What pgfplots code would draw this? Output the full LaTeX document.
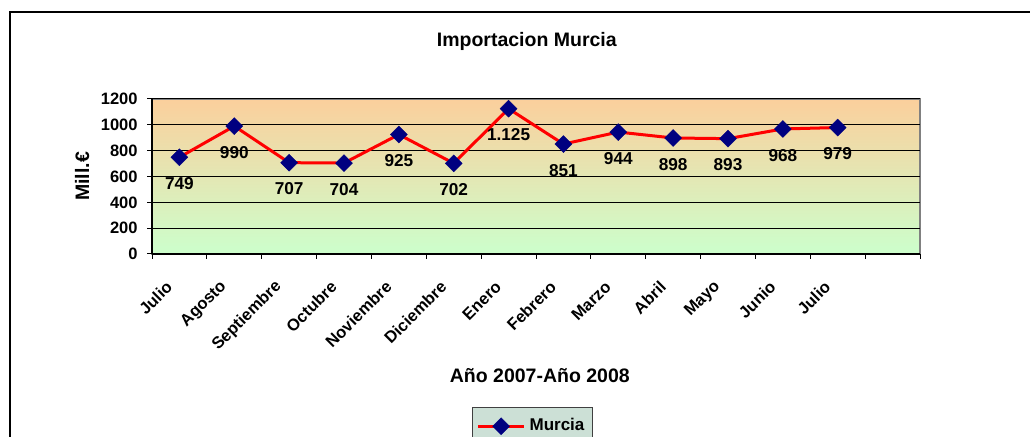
\documentclass[border=0pt]{standalone}
\usepackage{fontspec}
\setmainfont{Liberation Sans}
\usepackage{pgfplots}
\pgfplotsset{compat=1.18}
\definecolor{navy}{RGB}{0,0,128}
\definecolor{bgtop}{RGB}{251,207,156}
\definecolor{bgbot}{RGB}{204,255,204}
\definecolor{legfill}{RGB}{204,224,214}
\newcommand{\lbl}{\bfseries\fontsize{8.25}{10}\selectfont}
\newcommand{\dlbl}{\bfseries\fontsize{8.6}{10}\selectfont}
\newcommand{\hdrfont}{\bfseries\fontsize{9.75}{12}\selectfont}
\begin{document}
\begin{tikzpicture}
\begin{axis}[
  at={(76pt,91.5pt)}, anchor=south west,
  scale only axis, width=384pt, height=77.5pt,
  xmin=-0.5, xmax=13.5, ymin=0, ymax=1200,
  ytick={0,200,...,1200},
  xtick={0,...,12},
  xticklabels={Julio,Agosto,Septiembre,Octubre,Noviembre,Diciembre,Enero,Febrero,Marzo,Abril,Mayo,Junio,Julio},
  minor xtick={-0.5,0.5,...,13.5},
  major x tick style={draw=none},
  tick align=outside,
  major tick length=2.5pt, minor tick length=2.5pt,
  tick style={black, line width=0.5pt},
  ymajorgrids, grid style={black, line width=0.5pt},
  axis x line*=bottom, axis y line*=left,
  axis line style={black, line width=0.6pt},
  axis background/.style={shade, top color=bgtop, bottom color=bgbot, draw=gray, line width=0.6pt},
  /pgf/number format/assume math mode=true,
  /pgf/number format/1000 sep={},
  ticklabel style={font=\lbl},
  yticklabel style={inner sep=0pt, xshift=-4.5pt},
  xticklabel style={xshift=-5pt, yshift=-12.5pt, rotate=45, anchor=east, inner sep=0pt},
  title={Importacion Murcia},
  every axis title/.style={at={(axis description cs:0.488,1.374)}, anchor=center, font=\hdrfont},
  xlabel={Año 2007-Año 2008},
  every axis x label/.style={at={(axis description cs:0.505,-0.787)}, anchor=center, font=\hdrfont},
  ylabel={Mill.€},
  every axis y label/.style={at={(axis description cs:-0.0911,0.5)}, rotate=90, anchor=center, font=\hdrfont},
  nodes near coords,
  point meta=explicit symbolic,
  every node near coord/.append style={anchor=north, inner sep=0pt, yshift=-10pt, font=\dlbl, black},
  legend style={at={(0.4167,-0.987)}, anchor=north west, fill=legfill, draw=darkgray, line width=0.6pt, font=\bfseries\fontsize{8.5}{10}\selectfont, inner xsep=2pt, inner ysep=3.5pt},
  legend image code/.code={\draw[mark repeat=2,mark phase=2,#1] plot coordinates {(0pt,0pt)(11.5pt,0pt)(23pt,0pt)};},
]
\addplot[red, line width=1.5pt, mark=square*, mark size=3pt,
  mark options={rotate=45, fill=navy, draw=navy, line width=0.2pt}]
  table[meta=label] {
x y label
0 749 749
1 990 990
2 707 707
3 704 704
4 925 925
5 702 702
6 1125 1.125
7 851 851
8 944 944
9 898 898
10 893 893
11 968 968
12 979 979
};
\legend{Murcia}
\end{axis}
\draw[black, line width=0.75pt] (5pt,-20pt) -- (5pt,212.5pt) -- (540pt,212.5pt);
\pgfresetboundingbox
\useasboundingbox (0,0) rectangle (515pt,218.5pt);
\end{tikzpicture}
\end{document}
